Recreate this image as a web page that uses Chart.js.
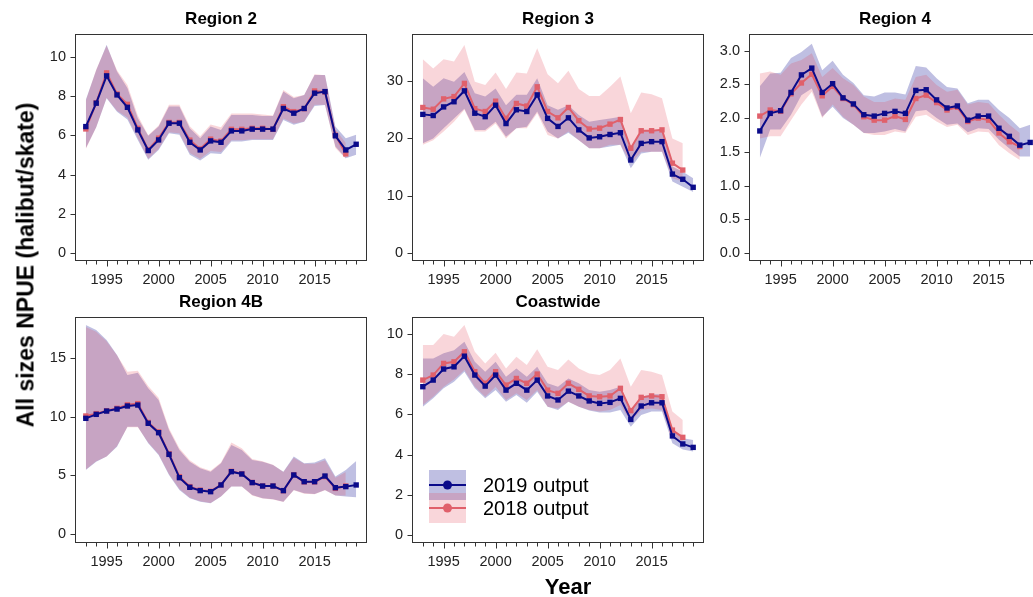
<!DOCTYPE html>
<html>
<head>
<meta charset="utf-8">
<title>All sizes NPUE by region</title>
<script src="https://cdn.jsdelivr.net/npm/chart.js@4.4.1/dist/chart.umd.min.js"></script>
<style>
  html, body { margin: 0; padding: 0; background: #fff; width: 1033px; height: 597px; overflow: hidden; }
  #wrap { position: relative; width: 1033px; height: 597px; overflow: hidden; }
  #wrap canvas { position: absolute; left: 0; top: 0; }
  .axt { position: absolute; font-family: "Liberation Sans", Arial, sans-serif; font-weight: bold;
         font-size: 22px; color: #000; white-space: nowrap; line-height: 1; }
  #ytitle { left: 26px; top: 265px; font-size: 23px; transform: translate(-50%, -50%) rotate(-90deg); }
  #xtitle { left: 568px; top: 587px; transform: translate(-50%, -50%); }
</style>
</head>
<body>
<div id="wrap">
  <canvas id="cR2" width="1060" height="597"></canvas>
  <canvas id="cR3" width="1060" height="597"></canvas>
  <canvas id="cR4" width="1060" height="597"></canvas>
  <canvas id="cR4B" width="1060" height="597"></canvas>
  <canvas id="cCW" width="1060" height="597"></canvas>
  <div class="axt" id="ytitle">All sizes NPUE (halibut/skate)</div>
  <div class="axt" id="xtitle">Year</div>
</div>
<script>
// ---- years and tick labels ----
const years2019 = [1993,1994,1995,1996,1997,1998,1999,2000,2001,2002,2003,2004,2005,2006,2007,2008,2009,2010,2011,2012,2013,2014,2015,2016,2017,2018,2019];
const years2018 = [1993,1994,1995,1996,1997,1998,1999,2000,2001,2002,2003,2004,2005,2006,2007,2008,2009,2010,2011,2012,2013,2014,2015,2016,2017,2018];
const xTickLabels = [1995, 2000, 2005, 2010, 2015];
const yTicksR2 = [0, 2, 4, 6, 8, 10];
const yTicksR3 = [0, 10, 20, 30];
const yTicksR4 = [0, 0.5, 1, 1.5, 2, 2.5, 3];
const yTicksR4B = [0, 5, 10, 15];
const yTicksCW = [0, 2, 4, 6, 8, 10];

// ---- Region 2 ----
const r2_2019    = [6.44,7.63,9.02,8.05,7.42,6.27,5.22,5.76,6.61,6.61,5.64,5.25,5.71,5.64,6.22,6.22,6.31,6.31,6.31,7.36,7.12,7.36,8.14,8.22,5.97,5.25,5.54];
const r2_2019_lo = [5.34,6.40,7.88,7.20,6.80,5.76,4.75,5.25,6.10,6.02,5.00,4.71,5.08,5.05,5.68,5.68,5.76,5.76,5.76,6.78,6.53,6.69,7.49,7.54,5.42,4.83,5.00];
const r2_2019_hi = [7.80,9.30,10.60,9.24,8.40,6.86,5.97,6.44,7.46,7.46,6.36,5.85,6.44,6.27,7.03,7.03,7.03,6.98,6.98,8.22,7.88,8.05,9.07,9.07,6.44,5.85,6.02];
const r2_2018    = [6.32,7.65,9.17,8.10,7.57,6.35,5.25,5.85,6.65,6.65,5.75,5.30,5.80,5.70,6.30,6.30,6.35,6.35,6.30,7.45,7.20,7.35,8.25,8.20,6.00,5.05];
const r2_2018_lo = [5.30,6.40,7.90,7.25,6.90,5.85,4.80,5.30,6.15,6.10,5.10,4.80,5.20,5.15,5.75,5.75,5.80,5.80,5.80,6.85,6.60,6.70,7.55,7.55,5.35,4.80];
const r2_2018_hi = [7.75,9.35,10.55,9.30,8.55,7.00,6.00,6.50,7.55,7.55,6.45,5.95,6.55,6.40,7.10,7.10,7.10,7.05,7.00,8.30,7.95,8.05,9.10,9.05,6.30,5.60];

// ---- Region 3 ----
const r3_2019    = [24.2,24.0,25.5,26.4,28.3,24.4,23.8,25.8,22.6,25.0,24.7,27.6,23.5,22.1,23.6,21.5,20.1,20.3,20.7,21.0,16.25,19.15,19.45,19.45,13.8,12.9,11.5];
const r3_2019_lo = [19.15,20.0,21.8,23.5,25.2,21.5,21.5,22.9,20.3,21.8,22.05,24.7,21.2,20.0,21.0,19.7,18.3,18.3,18.6,18.9,14.8,17.4,17.7,17.7,12.5,11.6,10.7];
const r3_2019_hi = [30.5,29.0,30.5,29.9,31.6,27.9,27.3,28.7,25.8,27.6,27.6,30.5,25.8,25.0,25.8,24.1,22.9,23.2,23.5,23.8,18.3,21.2,21.5,21.5,15.1,14.2,13.06];
const r3_2018    = [25.4,25.1,26.9,27.3,29.6,25.2,24.7,26.5,23.5,26.1,25.65,29.0,24.7,23.6,25.4,23.1,21.65,21.8,22.5,23.3,18.3,21.35,21.35,21.5,15.7,14.5];
const r3_2018_lo = [18.9,19.7,21.2,22.9,25.0,21.2,21.2,22.6,20.0,21.8,21.8,24.4,20.6,20.0,21.2,19.7,18.3,18.3,18.9,18.9,15.7,17.7,17.7,17.7,13.06,12.5];
const r3_2018_hi = [33.8,32.2,33.8,33.4,36.3,29.9,29.3,31.5,28.6,31.5,31.3,35.7,31.2,29.6,31.8,28.6,27.4,27.4,29.0,30.8,24.4,28.0,27.7,27.0,20.0,19.15];

// ---- Region 4 ----
const r4_2019    = [1.81,2.07,2.11,2.38,2.64,2.74,2.38,2.51,2.30,2.21,2.05,2.03,2.07,2.10,2.07,2.41,2.42,2.27,2.15,2.18,1.97,2.03,2.03,1.85,1.73,1.60,1.64];
const r4_2019_lo = [1.41,1.83,1.83,2.05,2.34,2.44,2.02,2.17,2.00,1.90,1.78,1.78,1.80,1.84,1.80,2.10,2.12,2.00,1.90,1.92,1.79,1.85,1.84,1.68,1.55,1.43,1.43];
const r4_2019_hi = [2.47,2.66,2.67,2.89,2.98,3.10,2.71,2.85,2.64,2.52,2.34,2.32,2.38,2.38,2.35,2.77,2.75,2.59,2.46,2.44,2.22,2.27,2.27,2.12,2.00,1.85,1.90];
const r4_2018    = [2.03,2.12,2.10,2.36,2.52,2.65,2.33,2.47,2.29,2.20,2.02,1.97,1.97,2.03,1.98,2.29,2.34,2.23,2.12,2.16,1.95,2.00,1.97,1.78,1.65,1.58];
const r4_2018_lo = [1.70,1.73,1.73,1.97,2.20,2.39,2.00,2.20,2.02,1.90,1.78,1.75,1.75,1.80,1.78,2.02,2.05,1.95,1.87,1.90,1.75,1.80,1.79,1.60,1.48,1.38];
const r4_2018_hi = [2.66,2.69,2.64,2.81,2.86,2.96,2.61,2.74,2.59,2.49,2.32,2.24,2.24,2.29,2.27,2.61,2.64,2.49,2.39,2.42,2.20,2.24,2.22,2.05,1.90,1.78];

// ---- Region 4B ----
const r4b_2019    = [9.85,10.19,10.47,10.64,10.90,10.98,9.43,8.63,6.79,4.81,3.99,3.71,3.62,4.19,5.32,5.12,4.39,4.10,4.10,3.71,5.04,4.47,4.47,4.95,3.96,4.05,4.19];
const r4b_2019_lo = [5.46,6.17,6.60,7.44,9.14,9.14,7.73,6.74,5.04,3.76,3.06,2.77,2.63,3.20,4.05,4.05,3.34,3.06,2.97,2.77,3.76,3.48,3.42,3.76,3.30,3.20,3.14];
const r4b_2019_hi = [17.78,17.35,16.50,15.23,13.53,13.73,12.40,11.41,8.86,7.16,6.17,5.60,5.32,6.03,7.59,7.16,6.31,6.17,5.89,5.32,6.60,6.03,6.09,6.45,4.90,5.46,6.23];
const r4b_2018    = [10.05,10.25,10.50,10.70,11.00,11.10,9.50,8.70,6.85,4.90,4.05,3.75,3.65,4.20,5.35,5.15,4.40,4.10,4.10,3.70,5.05,4.45,4.45,4.90,3.90,4.10];
const r4b_2018_lo = [5.50,6.20,6.60,7.50,9.10,9.10,7.80,6.80,5.10,3.85,3.10,2.80,2.65,3.20,4.05,4.05,3.30,3.05,2.95,2.75,3.75,3.45,3.40,3.75,3.30,3.30];
const r4b_2018_hi = [17.60,17.20,16.40,15.20,13.80,13.90,12.60,11.60,9.00,7.30,6.30,5.70,5.40,6.10,7.80,7.30,6.40,6.20,5.90,5.30,6.50,6.00,6.00,6.30,4.80,5.30];

// ---- Coastwide ----
const cw_2019    = [7.38,7.71,8.26,8.37,8.90,7.96,7.41,7.96,7.21,7.55,7.21,7.71,6.92,6.72,7.16,6.92,6.67,6.55,6.60,6.80,5.75,6.42,6.58,6.58,4.93,4.53,4.36];
const cw_2019_lo = [6.38,6.80,7.30,7.63,8.13,7.30,6.80,7.21,6.63,6.97,6.58,7.13,6.38,6.22,6.63,6.38,6.19,6.09,6.09,6.22,5.39,5.97,6.14,6.14,4.56,4.26,4.15];
const cw_2019_hi = [8.79,8.79,9.04,9.20,9.62,8.62,8.13,8.62,7.88,8.29,7.88,8.37,7.55,7.38,7.79,7.55,7.21,7.13,7.21,7.38,6.22,6.88,7.01,7.01,5.22,4.81,4.73];
const cw_2018    = [7.71,7.96,8.54,8.62,9.12,8.13,7.55,8.13,7.46,7.79,7.55,8.01,7.21,7.05,7.55,7.25,6.92,6.88,6.92,7.30,6.19,6.85,6.92,6.88,5.22,4.86];
const cw_2018_lo = [6.47,6.88,7.38,7.74,8.21,7.38,6.88,7.38,6.72,7.05,6.72,7.21,6.38,6.30,6.63,6.38,6.22,6.14,6.22,6.47,5.64,6.22,6.30,6.22,4.81,4.56];
const cw_2018_hi = [9.45,9.45,10.00,9.87,10.45,9.12,8.54,9.07,8.29,8.87,8.46,9.24,8.37,8.21,8.74,8.29,8.04,7.96,8.21,8.79,7.38,8.21,8.13,7.96,6.14,5.72];

// ---- styling ----
const BLUE = '#0b0b8a';
const RED = '#e0606b';
const BLUE_BAND = 'rgba(0,0,139,0.25)';
const PINK_BAND = 'rgba(225,60,80,0.21)';
const FRAME = '#333333';
const FONT = '"Liberation Sans", Arial, sans-serif';
Chart.defaults.font.family = FONT;

const CANVAS_W = 1060, CANVAS_H = 597, Y_AXIS_W = 50, X_AXIS_H = 30;

// panel layout (plot-region pixels) and value ranges
const panels = [
  { id: 'cR2',  title: 'Region 2',  s19: r2_2019,  lo19: r2_2019_lo,  hi19: r2_2019_hi,  s18: r2_2018,  lo18: r2_2018_lo,  hi18: r2_2018_hi,
    yMin: -0.40, yMax: 11.15, yTicks: yTicksR2, dec: 0, area: { left: 75, top: 34, right: 367, bottom: 261 } },
  { id: 'cR3',  title: 'Region 3',  s19: r3_2019,  lo19: r3_2019_lo,  hi19: r3_2019_hi,  s18: r3_2018,  lo18: r3_2018_lo,  hi18: r3_2018_hi,
    yMin: -1.34, yMax: 38.2, yTicks: yTicksR3, dec: 0, area: { left: 412, top: 34, right: 704, bottom: 261 } },
  { id: 'cR4',  title: 'Region 4',  s19: r4_2019,  lo19: r4_2019_lo,  hi19: r4_2019_hi,  s18: r4_2018,  lo18: r4_2018_lo,  hi18: r4_2018_hi,
    yMin: -0.115, yMax: 3.245, yTicks: yTicksR4, dec: 1, area: { left: 749, top: 34, right: 1041, bottom: 261 } },
  { id: 'cR4B', title: 'Region 4B', s19: r4b_2019, lo19: r4b_2019_lo, hi19: r4b_2019_hi, s18: r4b_2018, lo18: r4b_2018_lo, hi18: r4b_2018_hi,
    yMin: -0.74, yMax: 18.46, yTicks: yTicksR4B, dec: 0, area: { left: 75, top: 317, right: 367, bottom: 543 } },
  { id: 'cCW',  title: 'Coastwide', s19: cw_2019,  lo19: cw_2019_lo,  hi19: cw_2019_hi,  s18: cw_2018,  lo18: cw_2018_lo,  hi18: cw_2018_hi,
    yMin: -0.40, yMax: 10.85, yTicks: yTicksCW, dec: 0, area: { left: 412, top: 317, right: 704, bottom: 543 }, legend: true }
];

// box, tick marks, panel title and (optionally) the legend
const panelFrame = {
  id: 'panelFrame',
  afterDraw(chart, args, opts) {
    const { ctx, chartArea: a } = chart;
    const xs = chart.scales.x, ys = chart.scales.y;
    ctx.save();
    ctx.strokeStyle = FRAME;
    ctx.lineWidth = 1;
    const L = Math.round(a.left) + 0.5, T = Math.round(a.top) + 0.5;
    const R = Math.round(a.right) - 0.5, B = Math.round(a.bottom) - 0.5;
    ctx.strokeRect(L, T, R - L, B - T);
    ctx.beginPath();
    ys.ticks.forEach(t => {
      const py = Math.round(ys.getPixelForValue(t.value)) + 0.5;
      ctx.moveTo(L - 5, py); ctx.lineTo(L, py);
    });
    years2019.forEach(v => {
      const px = Math.round(xs.getPixelForValue(v)) + 0.5;
      const len = (v % 5 === 0) ? 6 : 4;
      ctx.moveTo(px, B); ctx.lineTo(px, B + len);
    });
    ctx.stroke();

    ctx.fillStyle = '#000';
    ctx.font = 'bold 17px ' + FONT;
    ctx.textAlign = 'center';
    ctx.textBaseline = 'middle';
    ctx.fillText(opts.title, (a.left + a.right) / 2, a.top - 15);

    if (opts.legend) {
      const lx = a.left + 17, bw = 37;
      ctx.fillStyle = BLUE_BAND;
      ctx.fillRect(lx, a.bottom - 73, bw, 30);
      ctx.fillStyle = PINK_BAND;
      ctx.fillRect(lx, a.bottom - 50, bw, 30);
      const rows = [[BLUE, a.bottom - 58, '2019 output'], [RED, a.bottom - 35, '2018 output']];
      ctx.font = '20px ' + FONT;
      ctx.textAlign = 'left';
      rows.forEach(([c, y, label]) => {
        ctx.strokeStyle = c; ctx.lineWidth = 2;
        ctx.beginPath(); ctx.moveTo(lx, y); ctx.lineTo(lx + bw, y); ctx.stroke();
        ctx.fillStyle = c;
        ctx.beginPath(); ctx.arc(lx + bw / 2, y, 4.5, 0, Math.PI * 2); ctx.fill();
        ctx.fillStyle = '#000';
        ctx.fillText(label, a.left + 71, y + 1);
      });
    }
    ctx.restore();
  }
};

function points(xs, ys) { return ys.map((v, i) => ({ x: xs[i], y: v })); }

function bandSet(label, xs, ys, fill, color) {
  return { label, data: points(xs, ys), borderWidth: 0, borderColor: 'rgba(0,0,0,0)', pointRadius: 0,
           fill: fill, backgroundColor: color, tension: 0 };
}

function lineSet(label, xs, ys, color) {
  return { label, data: points(xs, ys), borderColor: color, backgroundColor: color, borderWidth: 2,
           pointStyle: 'rect', pointRadius: 3.8, pointBorderWidth: 0, pointBackgroundColor: color,
           fill: false, tension: 0 };
}

panels.forEach(p => {
  const A = p.area;
  new Chart(document.getElementById(p.id), {
    type: 'line',
    data: {
      datasets: [
        lineSet('2019 output', years2019, p.s19, BLUE),
        lineSet('2018 output', years2018, p.s18, RED),
        bandSet('2018 upper', years2018, p.hi18, '+1', PINK_BAND),
        bandSet('2018 lower', years2018, p.lo18, false, PINK_BAND),
        bandSet('2019 upper', years2019, p.hi19, '+1', BLUE_BAND),
        bandSet('2019 lower', years2019, p.lo19, false, BLUE_BAND)
      ]
    },
    options: {
      responsive: false,
      animation: false,
      events: [],
      layout: { padding: { left: A.left - Y_AXIS_W, top: A.top, right: CANVAS_W - A.right, bottom: CANVAS_H - A.bottom - X_AXIS_H } },
      plugins: {
        legend: { display: false },
        tooltip: { enabled: false },
        panelFrame: { title: p.title, legend: !!p.legend }
      },
      scales: {
        x: {
          type: 'linear', min: 1991.96, max: 2020.04,
          grid: { display: false, drawTicks: false }, border: { display: false },
          afterBuildTicks: s => { s.ticks = xTickLabels.map(v => ({ value: v })); },
          afterFit: s => { s.height = X_AXIS_H; },
          ticks: { padding: 10, color: '#222', font: { size: 14.5 }, maxRotation: 0, autoSkip: false,
                   callback: v => String(v) }
        },
        y: {
          type: 'linear', min: p.yMin, max: p.yMax,
          grid: { display: false, drawTicks: false }, border: { display: false },
          afterBuildTicks: s => { s.ticks = p.yTicks.map(v => ({ value: v })); },
          afterFit: s => { s.width = Y_AXIS_W; },
          ticks: { padding: 9, color: '#222', font: { size: 14.5 }, autoSkip: false,
                   callback: v => Number(v).toFixed(p.dec) }
        }
      }
    },
    plugins: [panelFrame]
  });
});
</script>
</body>
</html>
